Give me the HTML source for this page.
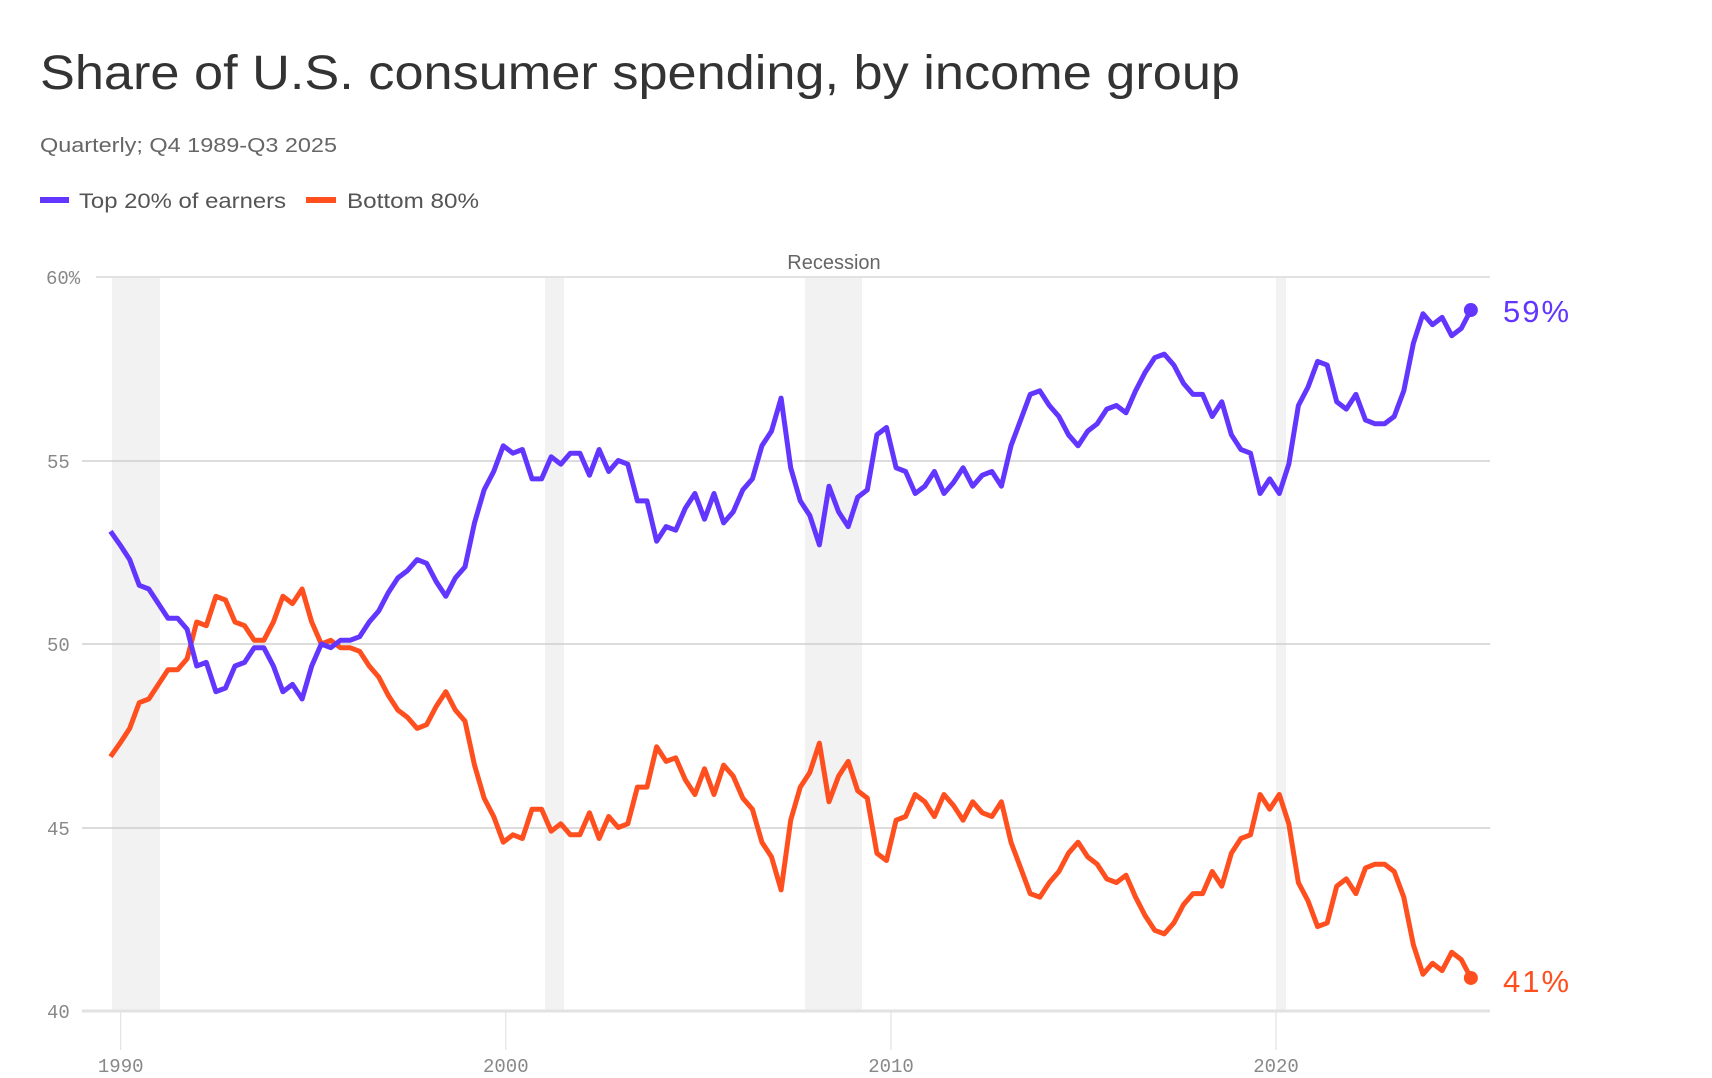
<!DOCTYPE html>
<html><head><meta charset="utf-8"><style>
html,body{margin:0;padding:0;background:#fff;}
svg{display:block;}
</style></head><body>
<svg id="c" width="1712" height="1078" xmlns="http://www.w3.org/2000/svg">
<text x="40" y="89" font-family="Liberation Sans, sans-serif" font-size="48" fill="#333" textLength="1200" lengthAdjust="spacingAndGlyphs">Share of U.S. consumer spending, by income group</text>
<text x="40" y="152" font-family="Liberation Sans, sans-serif" font-size="20" fill="#666" textLength="297" lengthAdjust="spacingAndGlyphs">Quarterly; Q4 1989-Q3 2025</text>
<rect x="40" y="197" width="29" height="6" fill="#6236ff"/>
<text x="79" y="208" font-family="Liberation Sans, sans-serif" font-size="21" fill="#555" textLength="207" lengthAdjust="spacingAndGlyphs">Top 20% of earners</text>
<rect x="306" y="197" width="30" height="6" fill="#ff4f1f"/>
<text x="347" y="208" font-family="Liberation Sans, sans-serif" font-size="21" fill="#555" textLength="132" lengthAdjust="spacingAndGlyphs">Bottom 80%</text>
<text x="834" y="269" text-anchor="middle" font-family="Liberation Sans, sans-serif" font-size="20" fill="#666">Recession</text>
<g fill="#f2f2f2">
<rect x="112" y="277" width="48" height="734"/>
<rect x="545" y="277" width="19" height="734"/>
<rect x="805" y="277" width="57" height="734"/>
<rect x="1276" y="277" width="10" height="734"/>
</g>
<g stroke="#ddd" stroke-width="1">
<line x1="120.7" y1="1011" x2="120.7" y2="1050"/>
<line x1="505.8" y1="1011" x2="505.8" y2="1050"/>
<line x1="891" y1="1011" x2="891" y2="1050"/>
<line x1="1276" y1="1011" x2="1276" y2="1050"/>
</g>
<g stroke="#d0d0d0" stroke-width="1.5">
<line x1="96" y1="277" x2="1490" y2="277" stroke="#e2e2e2" stroke-width="2"/>
<line x1="82" y1="461" x2="1490" y2="461"/>
<line x1="82" y1="644" x2="1490" y2="644"/>
<line x1="82" y1="828" x2="1490" y2="828"/>
<line x1="82" y1="1011" x2="1490" y2="1011" stroke="#e2e2e2" stroke-width="3"/>
</g>
<g font-family="Liberation Mono, monospace" font-size="19" fill="#888">
<text x="46" y="284">60%</text>
<text x="47" y="468">55</text>
<text x="47" y="651">50</text>
<text x="47" y="835">45</text>
<text x="47" y="1018">40</text>
<g text-anchor="middle">
<text x="120.7" y="1072">1990</text>
<text x="505.8" y="1072">2000</text>
<text x="891" y="1072">2010</text>
<text x="1276" y="1072">2020</text>
</g>
</g>
<polyline id="bot" fill="none" stroke="#ff4f1f" stroke-width="5" stroke-linejoin="round"/>
<polyline id="top" fill="none" stroke="#6236ff" stroke-width="5" stroke-linejoin="round"/>
<circle id="d1" r="7" fill="#6236ff"/>
<circle id="d2" r="7" fill="#ff4f1f"/>
<text x="1503" y="322" font-family="Liberation Sans, sans-serif" font-size="31" fill="#6236ff" letter-spacing="2">59%</text>
<text x="1503" y="992" font-family="Liberation Sans, sans-serif" font-size="31" fill="#ff4f1f" letter-spacing="2">41%</text>
</svg>
<script>
var v=[53.07,52.7,52.3,51.6,51.5,51.1,50.7,50.7,50.4,49.4,49.5,48.7,48.8,49.4,49.5,49.9,49.9,49.4,48.7,48.9,48.5,49.4,50.0,49.9,50.1,50.1,50.2,50.6,50.9,51.4,51.8,52.0,52.3,52.2,51.7,51.3,51.8,52.1,53.3,54.2,54.7,55.4,55.2,55.3,54.5,54.5,55.1,54.9,55.2,55.2,54.6,55.3,54.7,55.0,54.9,53.9,53.9,52.8,53.2,53.1,53.7,54.1,53.4,54.1,53.3,53.6,54.2,54.5,55.4,55.8,56.7,54.8,53.9,53.5,52.7,54.3,53.6,53.2,54.0,54.2,55.7,55.9,54.8,54.7,54.1,54.3,54.7,54.1,54.4,54.8,54.3,54.6,54.7,54.3,55.4,56.1,56.8,56.9,56.5,56.2,55.7,55.4,55.8,56.0,56.4,56.5,56.3,56.9,57.4,57.8,57.9,57.6,57.1,56.8,56.8,56.2,56.6,55.7,55.3,55.2,54.1,54.5,54.1,54.9,56.5,57.0,57.7,57.6,56.6,56.4,56.8,56.1,56.0,56.0,56.2,56.9,58.2,59.0,58.7,58.9,58.4,58.6,59.1];
var t=[],b=[];
function Y(x){return 277+(60-x)*36.7;}
for(var i=0;i<v.length;i++){var x=(110.5+i*9.58).toFixed(1);t.push(x+","+Y(v[i]).toFixed(1));b.push(x+","+Y(100-v[i]).toFixed(1));}
document.getElementById("top").setAttribute("points",t.join(" "));
document.getElementById("bot").setAttribute("points",b.join(" "));
var lx=110.5+(v.length-1)*9.58;
var d1=document.getElementById("d1"),d2=document.getElementById("d2");
d1.setAttribute("cx",lx);d1.setAttribute("cy",Y(59.1));
d2.setAttribute("cx",lx);d2.setAttribute("cy",Y(40.9));
</script>
</body></html>
